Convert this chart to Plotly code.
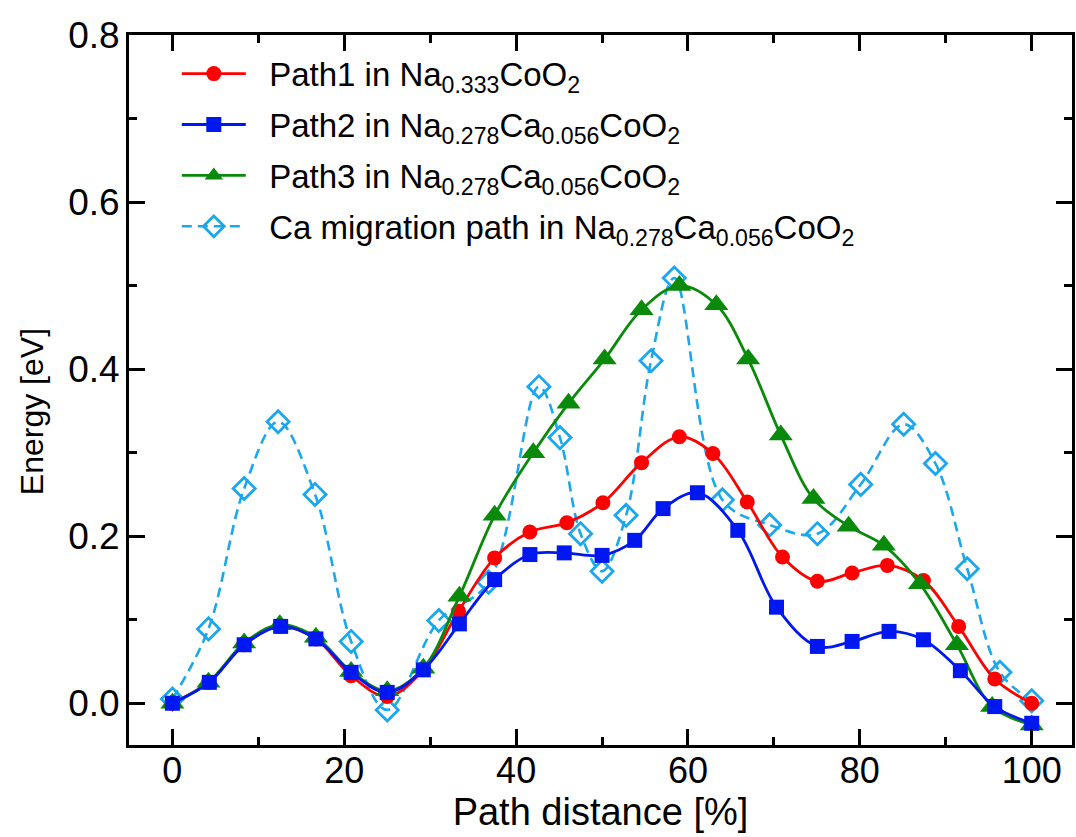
import plotly.graph_objects as go

# Path distance [%] for each image along the path
path1_x = [0, 4.2, 8.35, 12.5, 16.7, 20.8, 25.0, 29.2, 33.3, 37.5, 41.6, 45.9, 50.1,
           54.6, 59.0, 62.9, 66.9, 71.0, 75.06, 79.1, 83.2, 87.4, 91.5, 95.7, 100]
path1_e = [0, 0.025, 0.070, 0.092, 0.077, 0.033, 0.008, 0.040, 0.110, 0.174, 0.205, 0.216, 0.240,
           0.288, 0.319, 0.299, 0.241, 0.175, 0.146, 0.156, 0.165, 0.147, 0.092, 0.029, 0.0]

path2_x = [0, 4.3, 8.35, 12.6, 16.7, 20.8, 25.0, 29.2, 33.4, 37.5, 41.6, 45.6, 50.0,
           53.8, 57.1, 61.1, 65.8, 70.3, 75.06, 79.1, 83.4, 87.4, 91.7, 95.7, 100]
path2_e = [0, 0.025, 0.070, 0.092, 0.077, 0.037, 0.013, 0.040, 0.095, 0.148, 0.178, 0.180, 0.177,
           0.195, 0.233, 0.252, 0.207, 0.115, 0.068, 0.074, 0.086, 0.076, 0.039, -0.004, -0.024]

path3_x = [0, 4.2, 8.35, 12.5, 16.7, 20.8, 25.0, 29.2, 33.4, 37.5, 42.0, 46.1, 50.3,
           54.6, 59.0, 63.3, 67.0, 70.8, 74.6, 78.7, 82.8, 87.0, 91.3, 95.4, 100]
path3_e = [0, 0.025, 0.072, 0.094, 0.079, 0.038, 0.015, 0.042, 0.128, 0.225, 0.300, 0.359, 0.412,
           0.471, 0.500, 0.477, 0.412, 0.321, 0.245, 0.212, 0.189, 0.143, 0.070, -0.004, -0.026]

ca_x = [0, 4.2, 8.35, 12.3, 16.6, 20.8, 25.0, 31.0, 36.8, 42.65, 45.1, 47.5, 50.0,
        52.8, 55.7, 58.4, 64.0, 69.5, 75.06, 80.1, 85.1, 88.8, 92.5, 96.3, 100]
ca_e = [0.005, 0.089, 0.257, 0.337, 0.250, 0.074, -0.008, 0.099, 0.145, 0.379, 0.318, 0.203, 0.158,
        0.225, 0.410, 0.509, 0.2435, 0.2135, 0.203, 0.262, 0.334, 0.287, 0.161, 0.037, 0.003]

x_ticks = [0, 20, 40, 60, 80, 100]
y_ticks = [0.0, 0.2, 0.4, 0.6, 0.8]
y_ticktext = ["0.0", "0.2", "0.4", "0.6", "0.8"]

PAD = "\u00a0\u00a0"  # gap between legend sample and its label
names = [
    PAD + "Path1 in Na<sub>0.333</sub>CoO<sub>2</sub>",
    PAD + "Path2 in Na<sub>0.278</sub>Ca<sub>0.056</sub>CoO<sub>2</sub>",
    PAD + "Path3 in Na<sub>0.278</sub>Ca<sub>0.056</sub>CoO<sub>2</sub>",
    PAD + "Ca migration path in Na<sub>0.278</sub>Ca<sub>0.056</sub>CoO<sub>2</sub>",
]

FONT = "Liberation Sans, Arial, Helvetica, sans-serif"

fig = go.Figure()

fig.add_trace(go.Scatter(
    x=ca_x, y=ca_e, name=names[3], legendrank=4, legendgroup="g4", mode="lines+markers",
    line=dict(color="#1aa7ec", width=2.6, dash="10px,6px", shape="spline", smoothing=1),
    marker=dict(symbol="diamond-open", size=17, color="#1aa7ec", line=dict(width=2.8)),
))
fig.add_trace(go.Scatter(
    x=path1_x, y=path1_e, name=names[0], legendrank=1, legendgroup="g1", mode="lines+markers",
    line=dict(color="#ff0000", width=2.8, shape="spline", smoothing=1),
    marker=dict(symbol="circle", size=15, color="#ff0000"),
))
fig.add_trace(go.Scatter(
    x=path3_x, y=path3_e, name=names[2], legendrank=3, legendgroup="g3", mode="lines+markers",
    line=dict(color="#0a8a0a", width=2.8, shape="spline", smoothing=1),
    marker=dict(symbol="triangle-up", size=21, color="#0a8a0a"),
))
fig.add_trace(go.Scatter(
    x=path2_x, y=path2_e, name=names[1], legendrank=2, legendgroup="g2", mode="lines+markers",
    line=dict(color="#0018f0", width=2.8, shape="spline", smoothing=1),
    marker=dict(symbol="square", size=15, color="#0018f0"),
))

axis_common = dict(
    showline=True, linecolor="black", linewidth=3, mirror="ticks",
    ticks="inside", ticklen=16, tickwidth=3, tickcolor="black",
    showgrid=False, zeroline=False,
)

fig.update_xaxes(
    range=[-5.05, 104.69], tickvals=x_ticks,
    minor=dict(dtick=10, tick0=0, ticks="inside", ticklen=8, tickwidth=3, tickcolor="black"),
    title=dict(text="Path distance [%]", font=dict(family=FONT, size=38, color="black"), standoff=2),
    tickfont=dict(family=FONT, size=36, color="black"),
    ticklabelstandoff=-8,
    **axis_common,
)
fig.update_yaxes(
    range=[-0.05, 0.8], tickvals=y_ticks, ticktext=y_ticktext,
    minor=dict(dtick=0.1, tick0=0, ticks="inside", ticklen=8, tickwidth=3, tickcolor="black"),
    tickfont=dict(family=FONT, size=37, color="black"),
    ticklabelstandoff=-1,
    **axis_common,
)

# vertical axis title placed as a rotated annotation
fig.add_annotation(
    text="Energy [eV]", textangle=-90, showarrow=False,
    xref="paper", yref="paper", x=-0.103, y=0.47, xanchor="center", yanchor="middle",
    font=dict(family=FONT, size=32, color="black"),
)

fig.update_layout(
    width=1076, height=837,
    margin=dict(l=129, r=1, t=35, b=92),
    paper_bgcolor="white", plot_bgcolor="white",
    showlegend=True,
    legend=dict(
        x=0.0507, y=0.985, xanchor="left", yanchor="top",
        bgcolor="rgba(0,0,0,0)", borderwidth=0,
        font=dict(family=FONT, size=33, color="black"),
        itemwidth=64, tracegroupgap=5,
    ),
)

fig.write_html("out.html")
